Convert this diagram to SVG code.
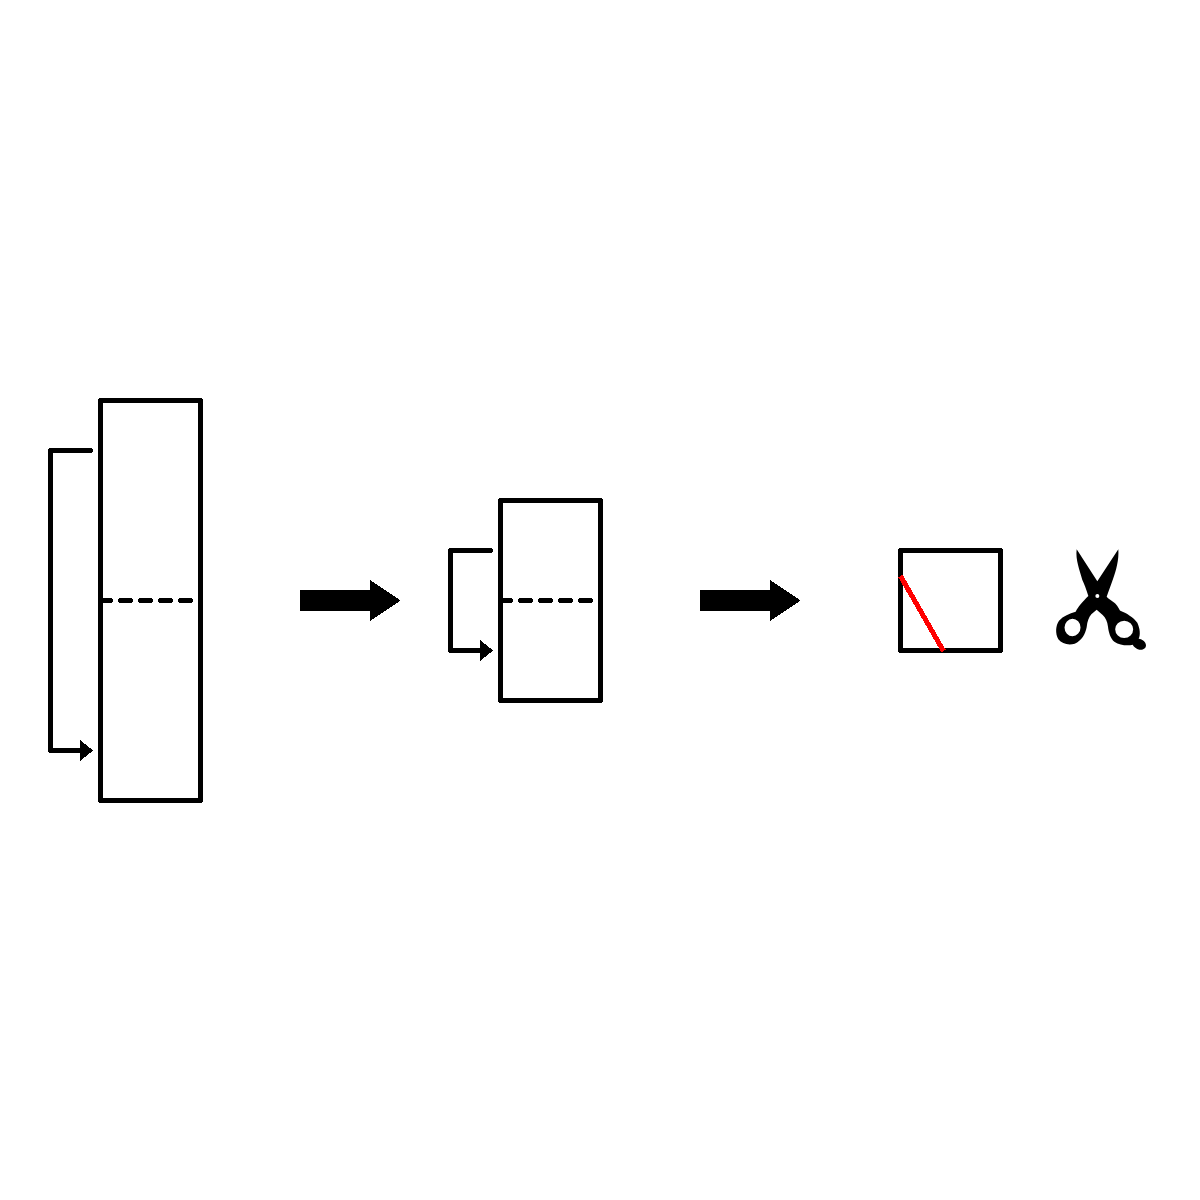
<svg xmlns="http://www.w3.org/2000/svg" width="1200" height="1200" viewBox="0 0 1200 1200">
<style>
.box{fill:none;stroke:#000;stroke-width:5;stroke-linejoin:round;stroke-linecap:round;shape-rendering:crispEdges}
.dash{fill:none;stroke:#000;stroke-width:5;stroke-linecap:round;stroke-dasharray:10 10;shape-rendering:crispEdges}
.loop{fill:none;stroke:#000;stroke-width:5;stroke-linejoin:round;stroke-linecap:round;shape-rendering:crispEdges}
.big{fill:#000;shape-rendering:crispEdges}
</style>
<defs>
<path id="head" d="M-13 -10.500L0 0L-13 10.500Z" fill="#000" shape-rendering="crispEdges"/>
</defs>
<rect width="1200" height="1200" fill="#fff"/>
<g id="sheet-long">
<rect class="box" x="100.500" y="400.500" width="100" height="400"/>
<path class="dash" d="M100.500 600.500H190.500"/>
</g>
<g id="sheet-half">
<rect class="box" x="500.500" y="500.500" width="100" height="200"/>
<path class="dash" d="M500.500 600.500H590.500"/>
</g>
<g id="sheet-square">
<rect class="box" x="900.500" y="550.500" width="100" height="100"/>
<path d="M900.500 576L943.500 651" fill="none" stroke="#f00" stroke-width="5" shape-rendering="crispEdges"/>
</g>
<g id="scissors">
<path fill="#000" fill-rule="evenodd" transform="translate(1050 590) scale(.33333)" d="M80 -122L142 -26L205 -122C207 -90 199 -60 188 -30C181 -10 175 5 170 20C175 26 183 30 193 38C203 46 207 58 211 62C228 68 252 83 262 98C270 115 272 135 266 146C278 148 288 156 288 166C288 176 278 181 268 179C259 177 252 171 248 164C233 168 210 166 193 155C181 145 176 127 174 110C172 94 167 84 158 75L140 59L124 73C116 82 112 94 110 112C106 132 95 153 74 161C55 167 36 161 25 148C15 130 17 106 27 92C40 78 58 70 77 65C83 52 98 35 115 18C109 -2 102 -20 97 -30C89 -60 76 -90 80 -122ZM142 12A6 6 0 1 0 142.100 24A6 6 0 1 0 142 12ZM67.500 86.500A24 26 0 1 0 67.600 138.500A24 26 0 1 0 67.500 86.500ZM222.500 92A27 26 0 1 0 222.600 144A27 26 0 1 0 222.500 92Z"/>
</g>
<g id="connectors">
<path class="loop" d="M90.500 450.500H50.500V750.500H82"/>
<use href="#head" x="93" y="750.500"/>
<path class="loop" d="M490.500 550.500H450.500V650.500H482"/>
<use href="#head" x="493" y="650.500"/>
<path class="big" d="M300 590H370V580L400.500 600.500L370 621V611H300Z"/>
<path class="big" d="M700 590H770V580L800.500 600.500L770 621V611H700Z"/>
</g>
</svg>
